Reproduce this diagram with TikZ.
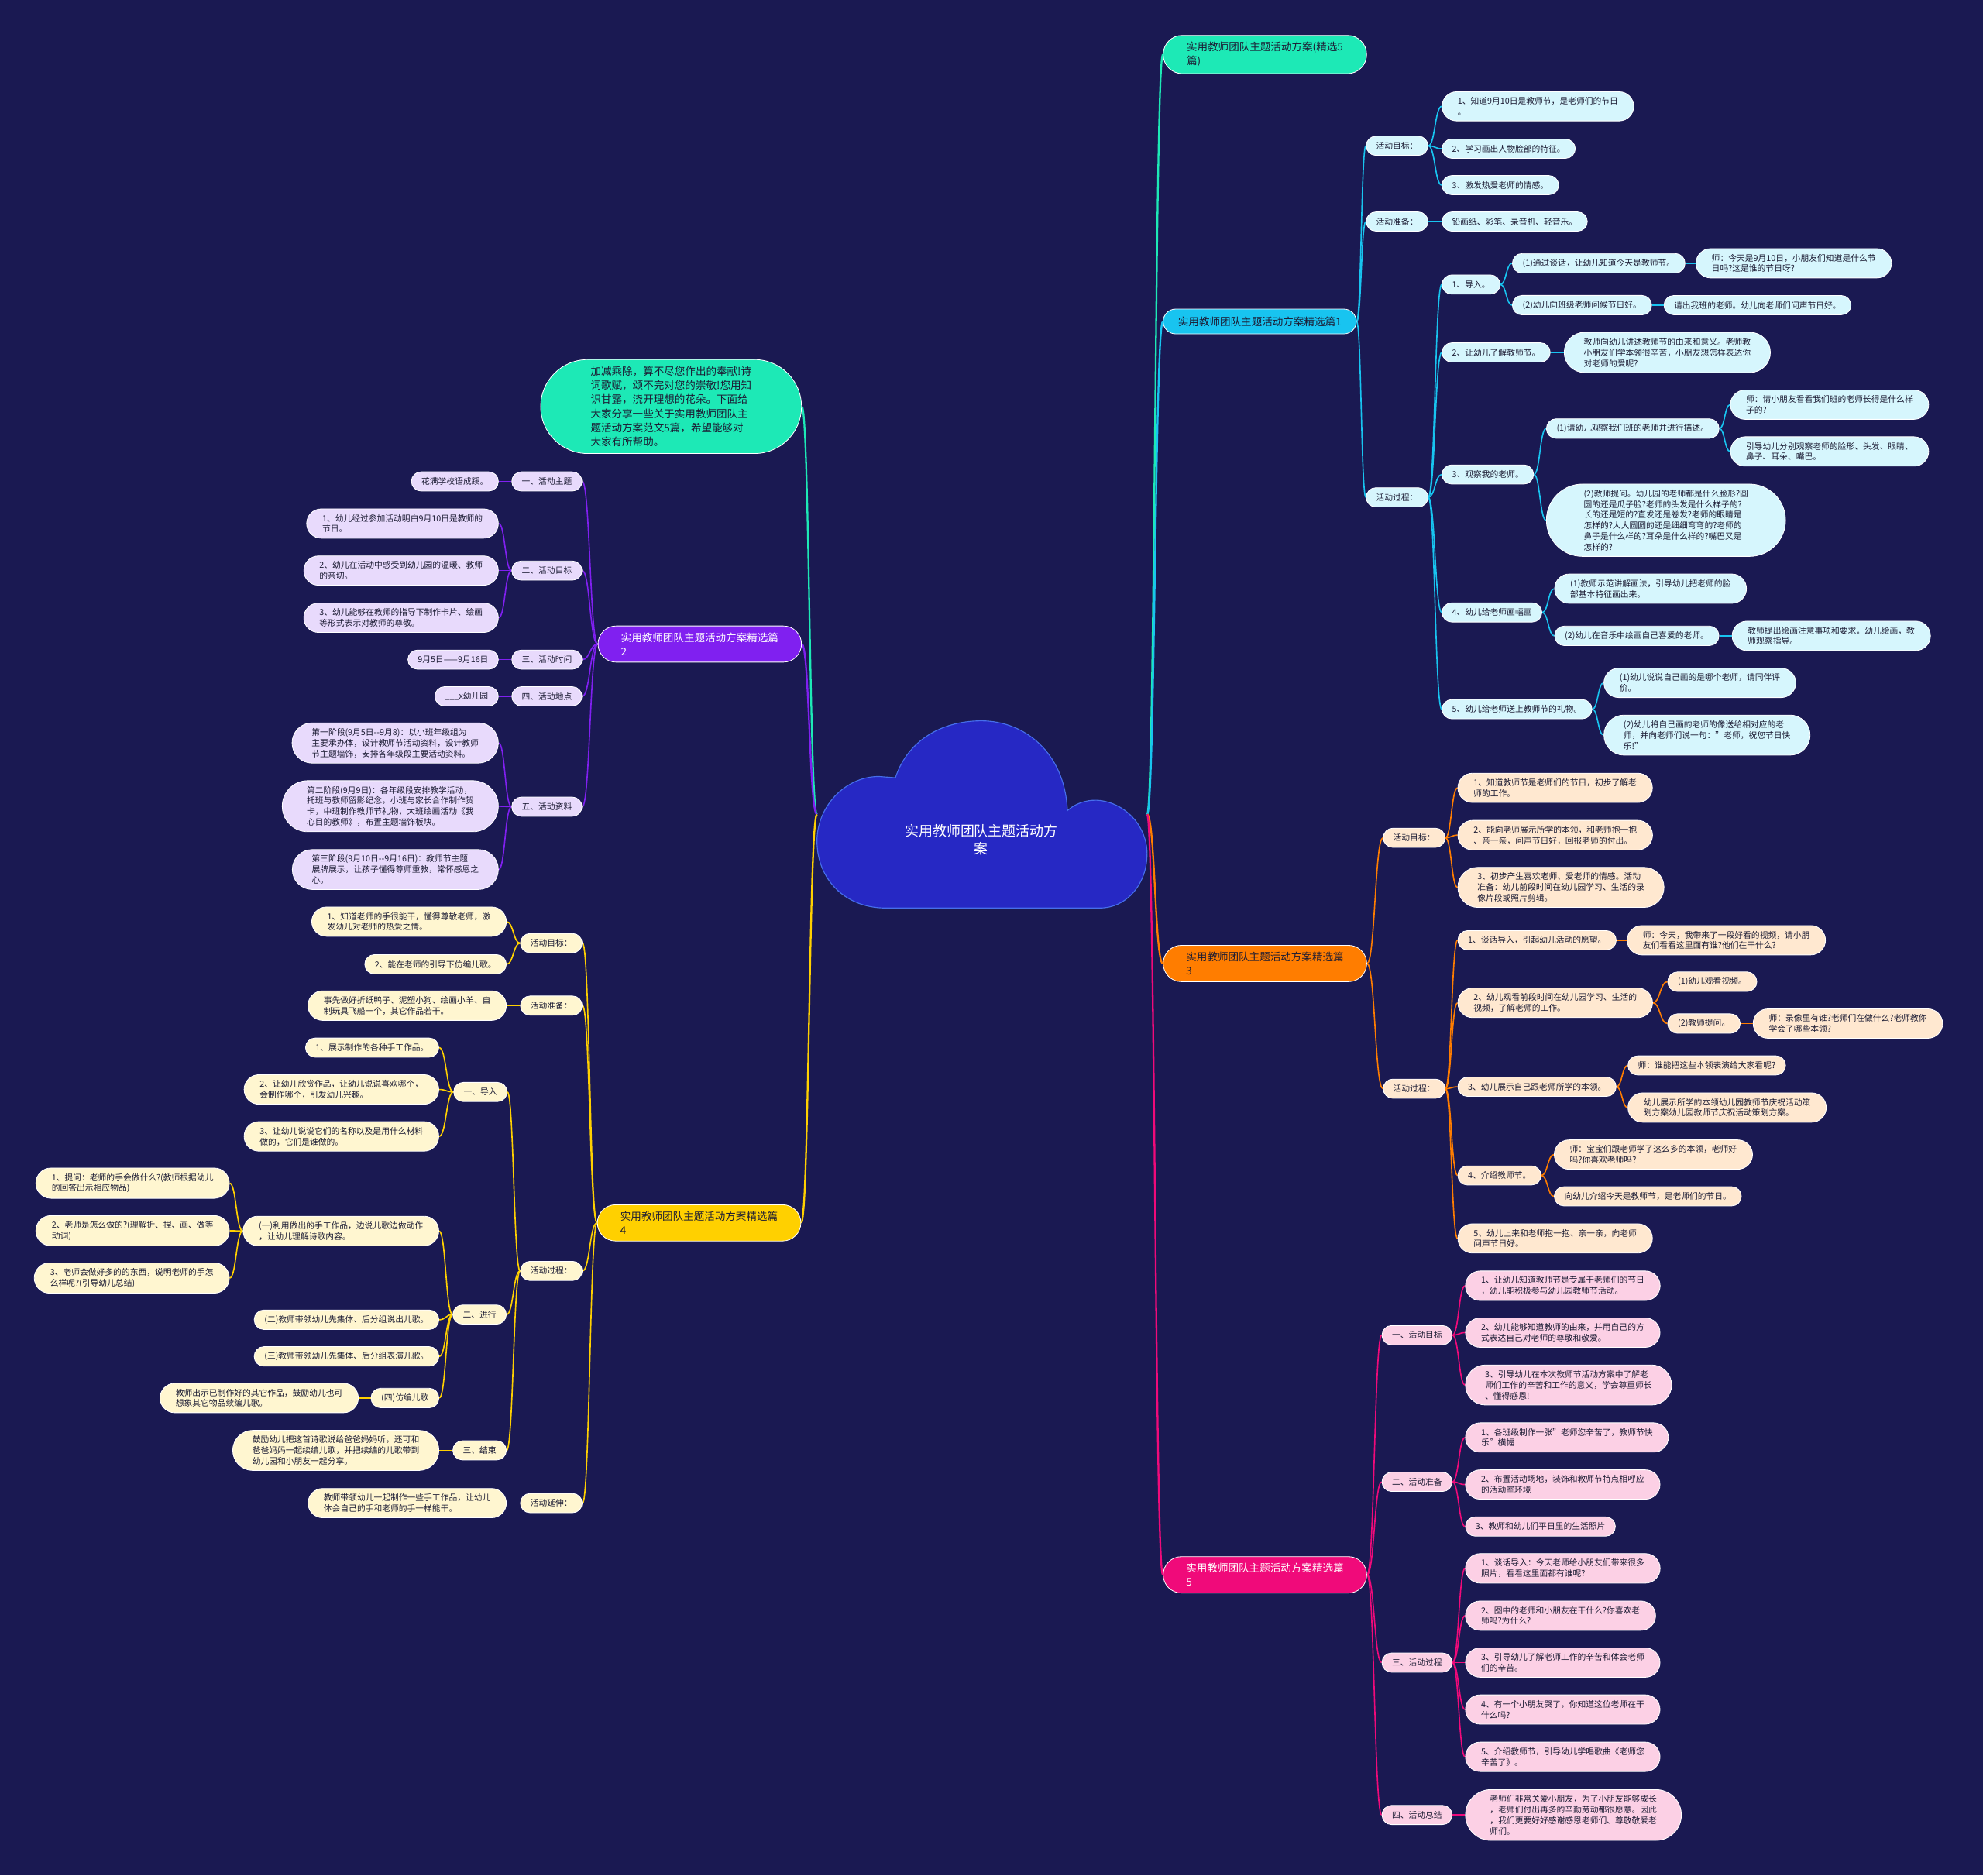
\documentclass[tikz,border=0pt]{standalone}
\usepackage{fontspec}
\setmainfont{Noto Sans CJK SC}
\usetikzlibrary{shapes.misc,calc}
\definecolor{bgc}{RGB}{26,25,82}
\definecolor{ink}{RGB}{28,28,52}
\definecolor{tealM}{RGB}{29,233,182}
\definecolor{cyanM}{RGB}{24,196,240}
\definecolor{oranM}{RGB}{255,125,0}
\definecolor{pinkM}{RGB}{240,10,122}
\definecolor{purpM}{RGB}{128,32,240}
\definecolor{yellM}{RGB}{255,208,0}
\definecolor{cyanL}{RGB}{214,246,253}
\definecolor{oranL}{RGB}{255,232,208}
\definecolor{pinkL}{RGB}{252,208,229}
\definecolor{purpL}{RGB}{232,218,252}
\definecolor{yellL}{RGB}{255,246,208}
\definecolor{cloudF}{RGB}{38,40,196}
\definecolor{cloudD}{RGB}{70,110,235}
\pgfdeclarelayer{back}
\pgfsetlayers{back,main}
\tikzset{
  box/.style={rounded rectangle, align=left, draw=white, line width=0.5pt},
  leaf/.style={box, font=\fontsize{6.6}{8.5}\selectfont, inner xsep=7.3pt, inner ysep=4.3pt, minimum height=15.2pt, text=ink},
  L2/.style={inner xsep=9.8pt},
  L3/.style={inner xsep=10.5pt},
  L4/.style={inner xsep=11.7pt},
  L6/.style={inner xsep=16pt},
  mainnode/.style={box, font=\fontsize{8.3}{11}\selectfont, inner xsep=11pt, inner ysep=5.3pt, minimum height=19.6pt},
  M2/.style={inner xsep=15pt},
  lc/.style={leaf, fill=cyanL},
  lo/.style={leaf, fill=oranL},
  lp/.style={leaf, fill=pinkL},
  lv/.style={leaf, fill=purpL},
  ly/.style={leaf, fill=yellL},
  mT/.style={mainnode, fill=tealM, text=ink},
  mC/.style={mainnode, fill=cyanM, text=ink},
  mO/.style={mainnode, fill=oranM, text=ink},
  mP/.style={mainnode, fill=pinkM, text=white},
  mV/.style={mainnode, fill=purpM, text=white},
  mY/.style={mainnode, fill=yellM, text=ink},
  conn/.style={to path={let \p1=(\tikztostart), \p2=(\tikztotarget) in
     .. controls ({(\x1+\x2)/2},\y1) and ({(\x1+\x2)/2},\y2) .. (\tikztotarget)}},
  eT/.style={draw=tealM, line width=1.4pt},
  eC/.style={draw=cyanM, line width=1pt},
  eO/.style={draw=oranM, line width=1pt},
  eP/.style={draw=pinkM, line width=1pt},
  eV/.style={draw=purpM, line width=1pt},
  eY/.style={draw=yellM, line width=1pt},
}
\begin{document}
\begin{tikzpicture}[x=1pt,y=-1pt]
\begin{pgfonlayer}{back}
\fill[bgc] (0,0) rectangle (1568,1483);
\end{pgfonlayer}
\useasboundingbox (0,0) rectangle (1568,1483);

% cloud
\filldraw[fill=cloudF, draw=cloudD, line width=0.7pt]
  (708,615) .. controls (718,585) and (745,570) .. (776,570)
  .. controls (810,570) and (842,595) .. (844,641)
  .. controls (852,634) and (862,632) .. (870,633)
  .. controls (892,636) and (907,655) .. (907,675)
  .. controls (907,700) and (890,718) .. (870,718)
  -- (700,718)
  .. controls (668,718) and (646,695) .. (646,665)
  .. controls (646,638) and (668,614) .. (695,614) -- cycle;
\node[text=white, font=\fontsize{11}{13.5}\selectfont, align=center] (root) at (776,664) {实用教师团队主题活动方\\案};
\coordinate (cR) at (907,644);
\coordinate (cL) at (646,644);

% ---------- right side ----------
\node[mT, M2, anchor=west] (b0) at (919.5,43.1) {实用教师团队主题活动方案(精选5\\篇)};
\node[mC, anchor=west] (b1) at (919.5,254.2) {实用教师团队主题活动方案精选篇1};
\node[mO, M2, anchor=west] (b3) at (919.5,761.9) {实用教师团队主题活动方案精选篇\\3};
\node[mP, M2, anchor=west] (b5) at (919.5,1245.3) {实用教师团队主题活动方案精选篇\\5};

% branch 1
\node[lc,anchor=west] (c1) at (1080,115.3) {活动目标：};
\node[lc,L2,anchor=west] (c11) at (1140,84.1) {1、知道9月10日是教师节，是老师们的节日\\。};
\node[lc,anchor=west] (c12) at (1140,117.6) {2、学习画出人物脸部的特征。};
\node[lc,anchor=west] (c13) at (1140,146.4) {3、激发热爱老师的情感。};
\node[lc,anchor=west] (c2) at (1080,175.2) {活动准备：};
\node[lc,anchor=west] (c21) at (1140,175.2) {铅画纸、彩笔、录音机、轻音乐。};
\node[lc,anchor=west] (c3) at (1080,393.3) {活动过程：};
\node[lc,anchor=west] (c31) at (1140,225) {1、导入。};
\node[lc,anchor=west] (c311) at (1195.6,208.2) {(1)通过谈话，让幼儿知道今天是教师节。};
\node[lc,L2,anchor=west] (c3111) at (1340.8,208.2) {师：今天是9月10日，小朋友们知道是什么节\\日吗?这是谁的节日呀?};
\node[lc,anchor=west] (c312) at (1195.6,241.3) {(2)幼儿向班级老师问候节日好。};
\node[lc,anchor=west] (c3121) at (1315.5,241.3) {请出我班的老师。幼儿向老师们问声节日好。};
\node[lc,anchor=west] (c32) at (1140,278.7) {2、让幼儿了解教师节。};
\node[lc,L3,anchor=west] (c321) at (1236.6,278.7) {教师向幼儿讲述教师节的由来和意义。老师教\\小朋友们学本领很辛苦，小朋友想怎样表达你\\对老师的爱呢?};
\node[lc,anchor=west] (c33) at (1140,375.2) {3、观察我的老师。};
\node[lc,anchor=west] (c331) at (1222.5,338.9) {(1)请幼儿观察我们班的老师并进行描述。};
\node[lc,L2,anchor=west] (c3311) at (1368,320) {师：请小朋友看看我们班的老师长得是什么样\\子的?};
\node[lc,L2,anchor=west] (c3312) at (1368,357) {引导幼儿分别观察老师的脸形、头发、眼睛、\\鼻子、耳朵、嘴巴。};
\node[lc,L6,anchor=west] (c332) at (1222.5,411.4) {(2)教师提问。幼儿园的老师都是什么脸形?圆\\圆的还是瓜子脸?老师的头发是什么样子的?\\长的还是短的?直发还是卷发?老师的眼睛是\\怎样的?大大圆圆的还是细细弯弯的?老师的\\鼻子是什么样的?耳朵是什么样的?嘴巴又是\\怎样的?};
\node[lc,anchor=west] (c34) at (1140,484.3) {4、幼儿给老师画幅画};
\node[lc,L2,anchor=west] (c341) at (1229,465.5) {(1)教师示范讲解画法，引导幼儿把老师的脸\\部基本特征画出来。};
\node[lc,anchor=west] (c342) at (1229,502.8) {(2)幼儿在音乐中绘画自己喜爱的老师。};
\node[lc,L2,anchor=west] (c3421) at (1369.4,502.8) {教师提出绘画注意事项和要求。幼儿绘画，教\\师观察指导。};
\node[lc,anchor=west] (c35) at (1140,560.8) {5、幼儿给老师送上教师节的礼物。};
\node[lc,L2,anchor=west] (c351) at (1268,540) {(1)幼儿说说自己画的是哪个老师，请同伴评\\价。};
\node[lc,L3,anchor=west] (c352) at (1268,581.3) {(2)幼儿将自己画的老师的像送给相对应的老\\师，并向老师们说一句："老师，祝您节日快\\乐!"};

% branch 3
\node[lo,anchor=west] (o1) at (1093.5,662.5) {活动目标：};
\node[lo,L2,anchor=west] (o11) at (1152.5,623) {1、知道教师节是老师们的节日，初步了解老\\师的工作。};
\node[lo,L2,anchor=west] (o12) at (1152.5,660.4) {2、能向老师展示所学的本领，和老师抱一抱\\、亲一亲，问声节日好，回报老师的付出。};
\node[lo,L3,anchor=west] (o13) at (1152.5,701.7) {3、初步产生喜欢老师、爱老师的情感。活动\\准备：幼儿前段时间在幼儿园学习、生活的录\\像片段或照片剪辑。};
\node[lo,anchor=west] (o2) at (1093.5,860.9) {活动过程：};
\node[lo,anchor=west] (o21) at (1152.5,743.5) {1、谈话导入，引起幼儿活动的愿望。};
\node[lo,L2,anchor=west] (o211) at (1286.4,743.5) {师：今天，我带来了一段好看的视频，请小朋\\友们看看这里面有谁?他们在干什么?};
\node[lo,L2,anchor=west] (o22) at (1152.5,793) {2、幼儿观看前段时间在幼儿园学习、生活的\\视频，了解老师的工作。};
\node[lo,anchor=west] (o221) at (1318.4,776.3) {(1)幼儿观看视频。};
\node[lo,anchor=west] (o222) at (1318.4,809.4) {(2)教师提问。};
\node[lo,L2,anchor=west] (o2221) at (1386,809.4) {师：录像里有谁?老师们在做什么?老师教你\\学会了哪些本领?};
\node[lo,anchor=west] (o23) at (1152.5,859.4) {3、幼儿展示自己跟老师所学的本领。};
\node[lo,anchor=west] (o231) at (1287,842.5) {师：谁能把这些本领表演给大家看呢?};
\node[lo,L2,anchor=west] (o232) at (1287,875.8) {幼儿展示所学的本领幼儿园教师节庆祝活动策\\划方案幼儿园教师节庆祝活动策划方案。};
\node[lo,anchor=west] (o24) at (1152.5,929.5) {4、介绍教师节。};
\node[lo,L2,anchor=west] (o241) at (1228.7,913) {师：宝宝们跟老师学了这么多的本领，老师好\\吗?你喜欢老师吗?};
\node[lo,anchor=west] (o242) at (1228.7,946) {向幼儿介绍今天是教师节，是老师们的节日。};
\node[lo,L2,anchor=west] (o25) at (1152.5,979.3) {5、幼儿上来和老师抱一抱、亲一亲，向老师\\问声节日好。};

% branch 5
\node[lp,anchor=west] (p1) at (1092.5,1055.8) {一、活动目标};
\node[lp,L2,anchor=west] (p11) at (1158.5,1016.7) {1、让幼儿知道教师节是专属于老师们的节日\\，幼儿能积极参与幼儿园教师节活动。};
\node[lp,L2,anchor=west] (p12) at (1158.5,1053.8) {2、幼儿能够知道教师的由来，并用自己的方\\式表达自己对老师的尊敬和敬爱。};
\node[lp,L3,anchor=west] (p13) at (1158.5,1095.2) {3、引导幼儿在本次教师节活动方案中了解老\\师们工作的辛苦和工作的意义，学会尊重师长\\、懂得感恩!};
\node[lp,anchor=west] (p2) at (1092.5,1171.8) {二、活动准备};
\node[lp,L2,anchor=west] (p21) at (1158.5,1136.7) {1、各班级制作一张"老师您辛苦了，教师节快\\乐"横幅};
\node[lp,L2,anchor=west] (p22) at (1158.5,1173.9) {2、布置活动场地，装饰和教师节特点相呼应\\的活动室环境};
\node[lp,anchor=west] (p23) at (1158.5,1207.1) {3、教师和幼儿们平日里的生活照片};
\node[lp,anchor=west] (p3) at (1092.5,1314.7) {三、活动过程};
\node[lp,L2,anchor=west] (p31) at (1158.5,1240.2) {1、谈话导入：今天老师给小朋友们带来很多\\照片，看看这里面都有谁呢?};
\node[lp,L2,anchor=west] (p32) at (1158.5,1277.6) {2、图中的老师和小朋友在干什么?你喜欢老\\师吗?为什么?};
\node[lp,L2,anchor=west] (p33) at (1158.5,1314.7) {3、引导幼儿了解老师工作的辛苦和体会老师\\们的辛苦。};
\node[lp,L2,anchor=west] (p34) at (1158.5,1351.8) {4、有一个小朋友哭了，你知道这位老师在干\\什么吗?};
\node[lp,L2,anchor=west] (p35) at (1158.5,1389.2) {5、介绍教师节，引导幼儿学唱歌曲《老师您\\辛苦了》。};
\node[lp,anchor=west] (p4) at (1092.5,1435.2) {四、活动总结};
\node[lp,L4,anchor=west] (p41) at (1158.5,1435.2) {老师们非常关爱小朋友，为了小朋友能够成长\\，老师们付出再多的辛勤劳动都很愿意。因此\\，我们更要好好感谢感恩老师们、尊敬敬爱老\\师们。};

% ---------- left side ----------
\node[mT, anchor=east, inner xsep=21.5pt, font=\fontsize{8.3}{11.2}\selectfont] (intro) at (634,321.5) {加减乘除，算不尽您作出的奉献!诗\\词歌赋，颂不完对您的崇敬!您用知\\识甘露，浇开理想的花朵。下面给\\大家分享一些关于实用教师团队主\\题活动方案范文5篇，希望能够对\\大家有所帮助。};
\node[mV, M2, anchor=east] (b2) at (634,509.3) {实用教师团队主题活动方案精选篇\\2};
\node[mY, M2, anchor=east] (b4) at (633.5,967) {实用教师团队主题活动方案精选篇\\4};

% branch 2
\node[lv,anchor=east] (v1) at (460.4,380.7) {一、活动主题};
\node[lv,anchor=east] (v11) at (394.3,380.7) {花满学校语成蹊。};
\node[lv,anchor=east] (v2) at (460.4,451.2) {二、活动目标};
\node[lv,L2,anchor=east] (v21) at (394.3,414) {1、幼儿经过参加活动明白9月10日是教师的\\节日。};
\node[lv,L2,anchor=east] (v22) at (394.3,451.2) {2、幼儿在活动中感受到幼儿园的温暖、教师\\的亲切。};
\node[lv,L2,anchor=east] (v23) at (394.3,488.5) {3、幼儿能够在教师的指导下制作卡片、绘画\\等形式表示对教师的尊敬。};
\node[lv,anchor=east] (v3) at (460.4,521.6) {三、活动时间};
\node[lv,anchor=east] (v31) at (394.3,521.6) {9月5日——9月16日};
\node[lv,anchor=east] (v4) at (460.4,550.6) {四、活动地点};
\node[lv,anchor=east] (v41) at (394.3,550.6) {\_\_\_x幼儿园};
\node[lv,anchor=east] (v5) at (460.4,637.9) {五、活动资料};
\node[lv,L3,anchor=east] (v51) at (394.3,587.5) {第一阶段(9月5日-{}-9月8)：以小班年级组为\\主要承办体，设计教师节活动资料，设计教师\\节主题墙饰，安排各年级段主要活动资料。};
\node[lv,L4,anchor=east] (v52) at (394.3,637.5) {第二阶段(9月9日)：各年级段安排教学活动，\\托班与教师留影纪念，小班与家长合作制作贺\\卡，中班制作教师节礼物，大班绘画活动《我\\心目的教师》，布置主题墙饰板块。};
\node[lv,L3,anchor=east] (v53) at (394.3,687.6) {第三阶段(9月10日-{}-9月16日)：教师节主题\\展牌展示，让孩子懂得尊师重教，常怀感恩之\\心。};

% branch 4
\node[ly,anchor=east] (y1) at (460.6,745.8) {活动目标：};
\node[ly,L2,anchor=east] (y11) at (400.6,728.8) {1、知道老师的手很能干，懂得尊敬老师，激\\发幼儿对老师的热爱之情。};
\node[ly,anchor=east] (y12) at (400.6,762.5) {2、能在老师的引导下仿编儿歌。};
\node[ly,anchor=east] (y2) at (460.6,795.2) {活动准备：};
\node[ly,L2,anchor=east] (y21) at (400.6,795.2) {事先做好折纸鸭子、泥塑小狗、绘画小羊、自\\制玩具飞船一个，其它作品若干。};
\node[ly,anchor=east] (y3) at (460.6,1005) {活动过程：};
\node[ly,anchor=east] (y31) at (401.2,863.5) {一、导入};
\node[ly,anchor=east] (y311) at (347.2,828.4) {1、展示制作的各种手工作品。};
\node[ly,L2,anchor=east] (y312) at (347.2,861.5) {2、让幼儿欣赏作品，让幼儿说说喜欢哪个，\\会制作哪个，引发幼儿兴趣。};
\node[ly,L2,anchor=east] (y313) at (347.2,898.6) {3、让幼儿说说它们的名称以及是用什么材料\\做的，它们是谁做的。};
\node[ly,anchor=east] (y32) at (400.6,1039.5) {二、进行};
\node[ly,L2,anchor=east] (y321) at (347.2,973.4) {(一)利用做出的手工作品，边说儿歌边做动作\\，让幼儿理解诗歌内容。};
\node[ly,L2,anchor=east] (y3211) at (181.6,935.6) {1、提问：老师的手会做什么?(教师根据幼儿\\的回答出示相应物品)};
\node[ly,L2,anchor=east] (y3212) at (181.6,973.2) {2、老师是怎么做的?(理解折、捏、画、做等\\动词)};
\node[ly,L2,anchor=east] (y3213) at (181.6,1010.6) {3、老师会做好多的的东西，说明老师的手怎\\么样呢?(引导幼儿总结)};
\node[ly,anchor=east] (y322) at (347.3,1043.6) {(二)教师带领幼儿先集体、后分组说出儿歌。};
\node[ly,anchor=east] (y323) at (347.3,1072.6) {(三)教师带领幼儿先集体、后分组表演儿歌。};
\node[ly,anchor=east] (y324) at (347.3,1105.5) {(四)仿编儿歌};
\node[ly,L2,anchor=east] (y3241) at (283.6,1105.5) {教师出示已制作好的其它作品，鼓励幼儿也可\\想象其它物品续编儿歌。};
\node[ly,anchor=east] (y33) at (400.6,1146.9) {三、结束};
\node[ly,L3,anchor=east] (y331) at (347.3,1146.9) {鼓励幼儿把这首诗歌说给爸爸妈妈听，还可和\\爸爸妈妈一起续编儿歌，并把续编的儿歌带到\\幼儿园和小朋友一起分享。};
\node[ly,anchor=east] (y4) at (460.6,1188.6) {活动延伸：};
\node[ly,L2,anchor=east] (y41) at (400.6,1188.6) {教师带领幼儿一起制作一些手工作品，让幼儿\\体会自己的手和老师的手一样能干。};

% ---------- connectors ----------
\begin{pgfonlayer}{back}
\draw[eT] (cR) to[conn] (b0.west);
\draw[eT] (cL) to[conn] (intro.east);
\draw[draw=cyanM, line width=1.4pt] (cR) to[conn] (b1.west);
\draw[draw=oranM, line width=1.4pt] (cR) to[conn] (b3.west);
\draw[draw=pinkM, line width=1.4pt] (cR) to[conn] (b5.west);
\draw[draw=purpM, line width=1.4pt] (cL) to[conn] (b2.east);
\draw[draw=yellM, line width=1.4pt] (cL) to[conn] (b4.east);
% right side
\foreach \p/\c in {b1/c1,b1/c2,b1/c3,c1/c11,c1/c12,c1/c13,c2/c21,c3/c31,c3/c32,c3/c33,c3/c34,c3/c35,
  c31/c311,c31/c312,c311/c3111,c312/c3121,c32/c321,c33/c331,c33/c332,c331/c3311,c331/c3312,
  c34/c341,c34/c342,c342/c3421,c35/c351,c35/c352}
  \draw[eC] (\p.east) to[conn] (\c.west);
\foreach \p/\c in {b3/o1,b3/o2,o1/o11,o1/o12,o1/o13,o2/o21,o2/o22,o2/o23,o2/o24,o2/o25,
  o21/o211,o22/o221,o22/o222,o222/o2221,o23/o231,o23/o232,o24/o241,o24/o242}
  \draw[eO] (\p.east) to[conn] (\c.west);
\foreach \p/\c in {b5/p1,b5/p2,b5/p3,b5/p4,p1/p11,p1/p12,p1/p13,p2/p21,p2/p22,p2/p23,
  p3/p31,p3/p32,p3/p33,p3/p34,p3/p35,p4/p41}
  \draw[eP] (\p.east) to[conn] (\c.west);
% left side
\foreach \p/\c in {b2/v1,b2/v2,b2/v3,b2/v4,b2/v5,v1/v11,v2/v21,v2/v22,v2/v23,v3/v31,v4/v41,
  v5/v51,v5/v52,v5/v53}
  \draw[eV] (\p.west) to[conn] (\c.east);
\foreach \p/\c in {b4/y1,b4/y2,b4/y3,b4/y4,y1/y11,y1/y12,y2/y21,y3/y31,y3/y32,y3/y33,
  y31/y311,y31/y312,y31/y313,y32/y321,y32/y322,y32/y323,y32/y324,y321/y3211,y321/y3212,y321/y3213,
  y324/y3241,y33/y331,y4/y41}
  \draw[eY] (\p.west) to[conn] (\c.east);
\end{pgfonlayer}
\end{tikzpicture}
\end{document}
